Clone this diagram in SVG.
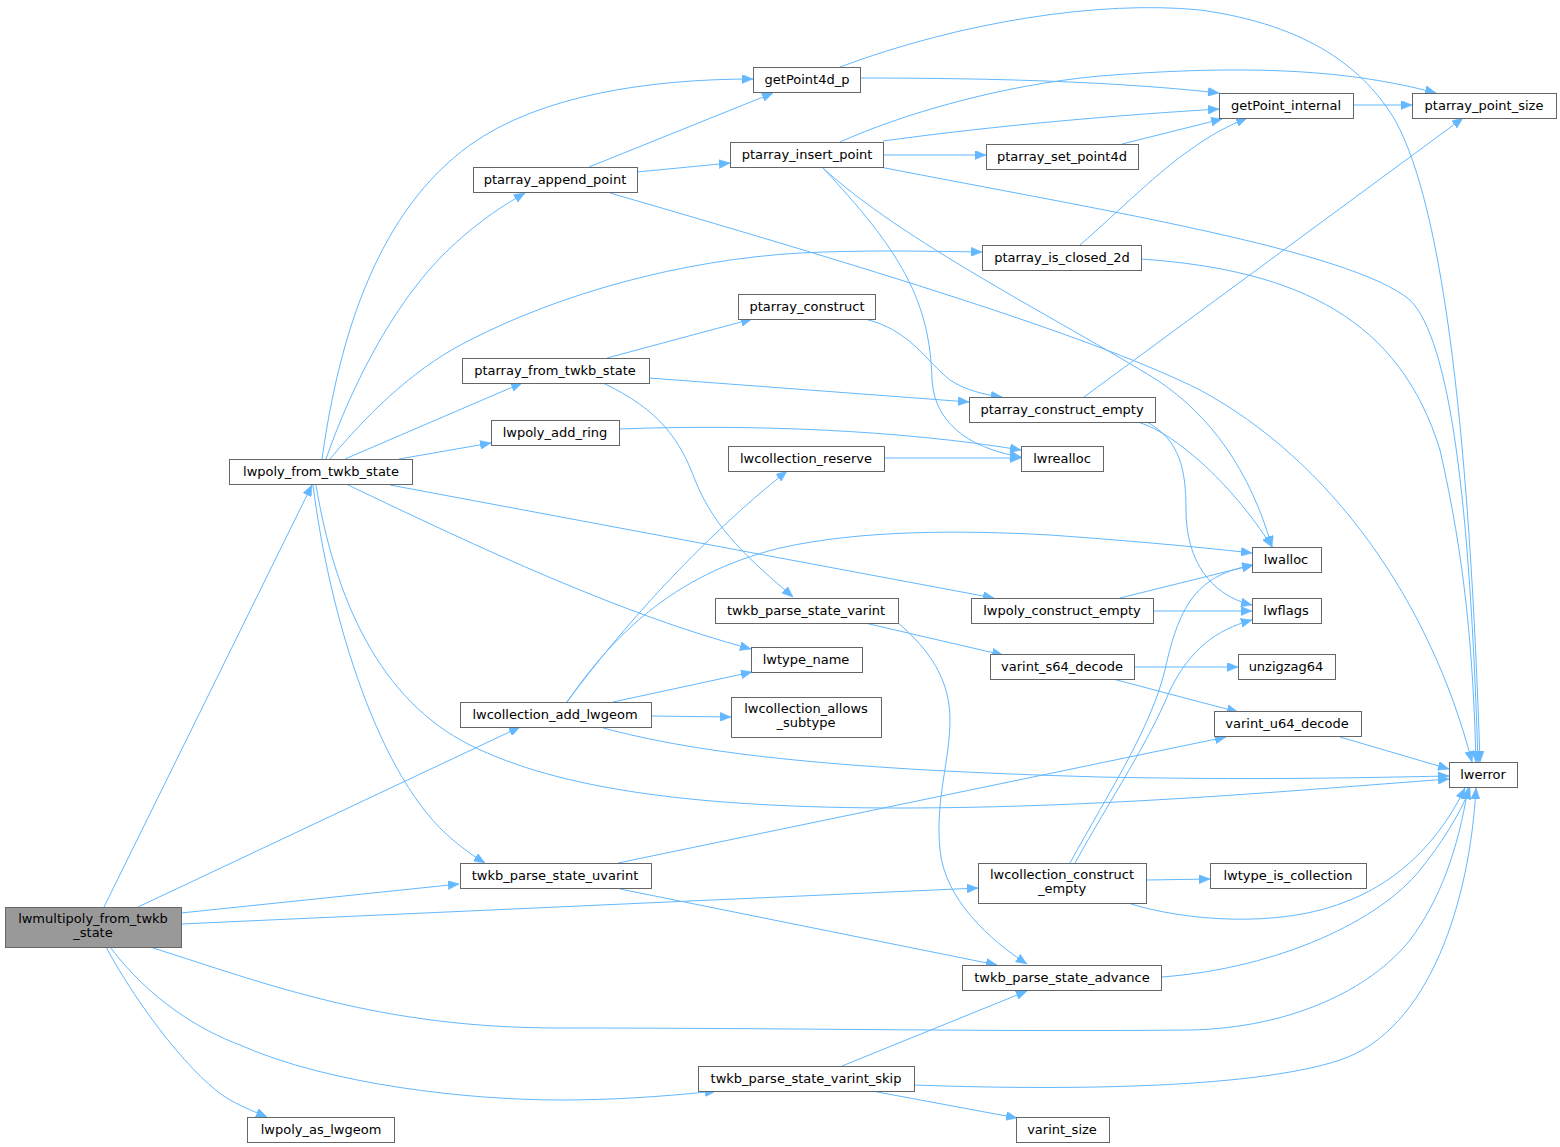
<svg xmlns="http://www.w3.org/2000/svg" width="1560" height="1147" viewBox="0 0 1560 1147">
<defs>
<style>
.n rect{fill:#ffffff;stroke:#666666;stroke-width:1}
.root rect{fill:#999999}
.n text{font-family:"DejaVu Sans","Liberation Sans",sans-serif;font-size:13px;text-anchor:middle;fill:#000000}
.e path{fill:none;stroke:#63b8ff;stroke-width:1;marker-end:url(#arr)}
</style>
<marker id="arr" viewBox="0 0 11 9" refX="11" refY="4.5" markerWidth="11" markerHeight="9" markerUnits="userSpaceOnUse" orient="auto">
<path d="M0,0 L11,4.5 L0,9 z" fill="#63b8ff" stroke="#63b8ff" stroke-width="0.5"/>
</marker>
</defs>
<rect x="0" y="0" width="1560" height="1147" fill="#ffffff"/>
<g id="edges" class="e">
<path d="M104,907 L312,485"/>
<path d="M138,907 L520,727"/>
<path d="M181,913 L459,884"/>
<path d="M181,924 L978,888"/>
<path d="M150,947 C270,985 380,1028 560,1028 C800,1028 1000,1032 1190,1030 C1290,1028 1370,990 1410,940 C1440,900 1458,850 1468,788"/>
<path d="M110,947 C150,1000 200,1030 240,1045 C330,1085 470,1100 560,1100 C610,1100 660,1097 716,1091"/>
<path d="M106,947 C140,1010 195,1080 230,1100 C245,1108 255,1112 267,1117"/>
<path d="M322,459 C340,330 380,210 470,145 C540,95 650,79 753,79"/>
<path d="M326,459 C350,390 390,310 440,258 C470,228 495,210 525,193"/>
<path d="M330,459 C375,405 420,365 470,340 C560,294 680,260 800,253 C860,250 920,251 982,252"/>
<path d="M345,459 L522,383"/>
<path d="M399,459 L491,443"/>
<path d="M390,485 L994,598"/>
<path d="M348,485 C480,548 620,614 751,649"/>
<path d="M316,485 C335,600 380,700 470,745 C560,790 700,808 900,808 C1100,808 1300,790 1449,779"/>
<path d="M313,485 C330,620 380,780 453,840 C465,850 475,857 485,863"/>
<path d="M589,167 L773,93"/>
<path d="M637,172 L730,163"/>
<path d="M610,193 C900,277 1100,340 1200,390 C1330,460 1430,600 1472,762"/>
<path d="M860,78 C1000,78 1120,82 1219,93"/>
<path d="M840,67 C960,22 1100,0 1200,10 C1310,25 1365,70 1395,120 C1445,210 1470,450 1480,762"/>
<path d="M840,142 C900,115 1000,85 1100,76 C1250,64 1350,70 1436,93"/>
<path d="M883,141 C1000,125 1120,115 1219,109"/>
<path d="M883,155 L986,155"/>
<path d="M880,167 C1100,210 1350,250 1410,300 C1450,340 1470,500 1478,762"/>
<path d="M822,167 C900,240 1060,320 1157,380 C1210,415 1250,470 1272,547"/>
<path d="M822,167 C900,250 930,300 932,380 C935,430 980,450 1021,457"/>
<path d="M1122,144 L1222,119"/>
<path d="M1080,245 C1120,210 1160,170 1190,150 C1210,135 1230,125 1247,118"/>
<path d="M1141,259 C1300,270 1400,320 1440,450 C1465,560 1473,650 1476,762"/>
<path d="M1353,105 L1412,105"/>
<path d="M865,319 C910,330 925,360 950,380 C965,390 985,395 1002,397"/>
<path d="M607,358 L752,319"/>
<path d="M649,378 L969,402"/>
<path d="M603,383 C660,410 680,440 695,480 C715,530 750,560 793,597"/>
<path d="M1084,397 L1463,118"/>
<path d="M1137,422 C1170,430 1230,480 1272,547"/>
<path d="M1147,422 C1180,440 1186,470 1186,510 C1186,560 1210,595 1252,605"/>
<path d="M619,429 C750,424 900,430 1021,450"/>
<path d="M884,458 L1021,458"/>
<path d="M567,702 C620,630 700,540 787,471"/>
<path d="M567,702 C610,640 670,575 780,548 C860,530 960,530 1050,535 C1120,540 1190,546 1252,553"/>
<path d="M613,702 L752,672"/>
<path d="M651,716 L731,717"/>
<path d="M600,727 C700,755 850,770 1100,777 C1250,780 1350,778 1449,776"/>
<path d="M1120,598 L1253,565"/>
<path d="M1153,611 L1252,611"/>
<path d="M1070,863 C1110,790 1150,730 1165,670 C1180,600 1200,575 1253,565"/>
<path d="M1075,863 C1110,800 1150,740 1170,690 C1190,650 1215,630 1252,620"/>
<path d="M1147,880 L1210,879"/>
<path d="M1128,903 C1180,920 1280,930 1350,900 C1400,880 1440,840 1465,788"/>
<path d="M865,623 L1003,655"/>
<path d="M897,622 C930,650 950,680 950,720 C950,760 935,800 940,850 C945,900 990,940 1027,964"/>
<path d="M1134,667 L1238,667"/>
<path d="M1113,679 L1238,712"/>
<path d="M618,863 L1226,737"/>
<path d="M620,889 L997,965"/>
<path d="M1340,737 L1449,769"/>
<path d="M1162,977 C1280,968 1380,920 1420,870 C1440,845 1460,815 1470,788"/>
<path d="M842,1066 L1027,991"/>
<path d="M914,1085 C1050,1090 1250,1090 1340,1060 C1430,1030 1470,900 1476,788"/>
<path d="M872,1091 L1017,1118"/>
</g>
<g id="n0" class="n root"><rect x="5.5" y="907.5" width="176" height="40"/><text x="93" y="923">lwmultipoly_from_twkb</text><text x="93" y="937">_state</text></g>
<g id="n1" class="n"><rect x="229.5" y="459.5" width="183" height="25"/><text x="321" y="476">lwpoly_from_twkb_state</text></g>
<g id="n2" class="n"><rect x="753.5" y="67.5" width="107" height="25"/><text x="807" y="84">getPoint4d_p</text></g>
<g id="n3" class="n"><rect x="473.5" y="167.5" width="164" height="25"/><text x="555" y="184">ptarray_append_point</text></g>
<g id="n4" class="n"><rect x="730.5" y="142.5" width="153" height="25"/><text x="807" y="159">ptarray_insert_point</text></g>
<g id="n5" class="n"><rect x="986.5" y="144.5" width="152" height="25"/><text x="1062" y="161">ptarray_set_point4d</text></g>
<g id="n6" class="n"><rect x="1219.5" y="93.5" width="134" height="25"/><text x="1286" y="110">getPoint_internal</text></g>
<g id="n7" class="n"><rect x="1412.5" y="93.5" width="144" height="25"/><text x="1484" y="110">ptarray_point_size</text></g>
<g id="n8" class="n"><rect x="982.5" y="245.5" width="159" height="25"/><text x="1062" y="262">ptarray_is_closed_2d</text></g>
<g id="n9" class="n"><rect x="738.5" y="294.5" width="137" height="25"/><text x="807" y="311">ptarray_construct</text></g>
<g id="n10" class="n"><rect x="462.5" y="358.5" width="187" height="25"/><text x="555" y="375">ptarray_from_twkb_state</text></g>
<g id="n11" class="n"><rect x="969.5" y="397.5" width="186" height="25"/><text x="1062" y="414">ptarray_construct_empty</text></g>
<g id="n12" class="n"><rect x="491.5" y="420.5" width="128" height="25"/><text x="555" y="437">lwpoly_add_ring</text></g>
<g id="n13" class="n"><rect x="728.5" y="446.5" width="156" height="25"/><text x="806" y="463">lwcollection_reserve</text></g>
<g id="n14" class="n"><rect x="1021.5" y="446.5" width="82" height="25"/><text x="1062" y="463">lwrealloc</text></g>
<g id="n15" class="n"><rect x="1252.5" y="547.5" width="69" height="25"/><text x="1286" y="564">lwalloc</text></g>
<g id="n16" class="n"><rect x="715.5" y="598.5" width="183" height="25"/><text x="806" y="615">twkb_parse_state_varint</text></g>
<g id="n17" class="n"><rect x="971.5" y="598.5" width="182" height="25"/><text x="1062" y="615">lwpoly_construct_empty</text></g>
<g id="n18" class="n"><rect x="1252.5" y="598.5" width="69" height="25"/><text x="1286" y="615">lwflags</text></g>
<g id="n19" class="n"><rect x="751.5" y="647.5" width="111" height="25"/><text x="806" y="664">lwtype_name</text></g>
<g id="n20" class="n"><rect x="990.5" y="654.5" width="144" height="25"/><text x="1062" y="671">varint_s64_decode</text></g>
<g id="n21" class="n"><rect x="1238.5" y="654.5" width="97" height="25"/><text x="1286" y="671">unzigzag64</text></g>
<g id="n22" class="n"><rect x="460.5" y="702.5" width="191" height="25"/><text x="555" y="719">lwcollection_add_lwgeom</text></g>
<g id="n23" class="n"><rect x="731.5" y="697.5" width="150" height="40"/><text x="806" y="713">lwcollection_allows</text><text x="806" y="727">_subtype</text></g>
<g id="n24" class="n"><rect x="1214.5" y="711.5" width="147" height="25"/><text x="1287" y="728">varint_u64_decode</text></g>
<g id="n25" class="n"><rect x="1449.5" y="762.5" width="68" height="25"/><text x="1483" y="779">lwerror</text></g>
<g id="n26" class="n"><rect x="460.5" y="863.5" width="191" height="25"/><text x="555" y="880">twkb_parse_state_uvarint</text></g>
<g id="n27" class="n"><rect x="978.5" y="863.5" width="168" height="40"/><text x="1062" y="879">lwcollection_construct</text><text x="1062" y="893">_empty</text></g>
<g id="n28" class="n"><rect x="1210.5" y="863.5" width="156" height="25"/><text x="1288" y="880">lwtype_is_collection</text></g>
<g id="n29" class="n"><rect x="962.5" y="965.5" width="199" height="25"/><text x="1062" y="982">twkb_parse_state_advance</text></g>
<g id="n30" class="n"><rect x="698.5" y="1066.5" width="216" height="25"/><text x="806" y="1083">twkb_parse_state_varint_skip</text></g>
<g id="n31" class="n"><rect x="247.5" y="1117.5" width="147" height="25"/><text x="321" y="1134">lwpoly_as_lwgeom</text></g>
<g id="n32" class="n"><rect x="1016.5" y="1117.5" width="93" height="25"/><text x="1062" y="1134">varint_size</text></g>
</svg>
